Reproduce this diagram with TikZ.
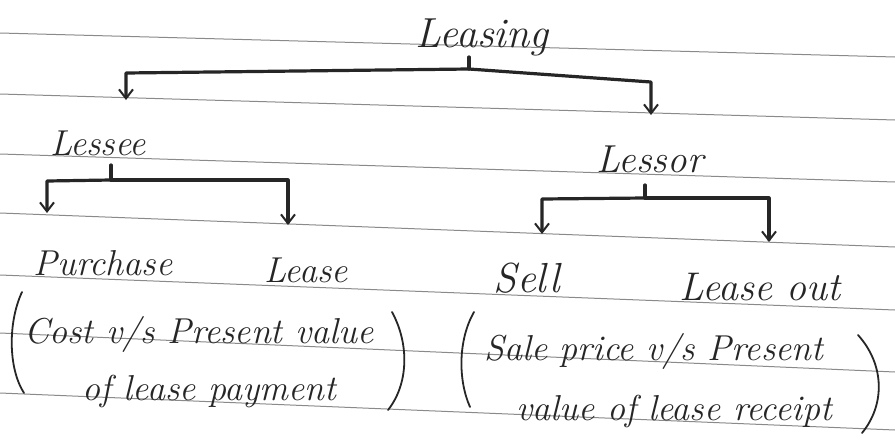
\documentclass[tikz,border=0pt]{standalone}
\usetikzlibrary{arrows.meta}
\definecolor{ink}{HTML}{262626}
\definecolor{rule}{HTML}{8A8A8A}
\begin{document}
\begin{tikzpicture}[x=1pt,y=-1pt,
  hand/.style={font=\fontsize{36}{40}\selectfont\itshape, text=ink, inner sep=0pt},
  conn/.style={draw=ink, line width=3.2pt, line join=round, line cap=round},
  arr/.style={-{Straight Barb[length=9pt,width=14pt,line width=2pt]}},
  paren/.style={draw=ink, line width=1.8pt, line cap=round},
  ruled/.style={draw=rule, line width=1pt}]
\useasboundingbox[fill=white] (0,0) rectangle (895,445);
% notebook ruling
\draw[ruled] (0,33) -- (895,57);
\draw[ruled] (0,94) -- (895,120);
\draw[ruled] (0,154) -- (895,182);
\draw[ruled] (0,213) -- (895,247);
\draw[ruled] (0,275) -- (895,310);
\draw[ruled] (0,333) -- (895,372);
\draw[ruled] (0,393) -- (895,430);
% texts
\node[hand, anchor=base, font=\fontsize{42}{46}\selectfont\itshape] (leasing) at (482,47) {Leasing};
\node[hand, anchor=base] (lessee) at (98,155) {Lessee};
\node[hand, anchor=base, font=\fontsize{39}{44}\selectfont\itshape] (lessor) at (650,172) {Lessor};
\node[hand, anchor=base] (purchase) at (103,275) {Purchase};
\node[hand, anchor=base] (lease) at (306,282) {Lease};
\node[hand, anchor=base, font=\fontsize{42}{46}\selectfont\itshape] (sell) at (527,292) {Sell};
\node[hand, anchor=base, font=\fontsize{40}{44}\selectfont\itshape] (leaseout) at (760,300) {Lease out};
\node[hand, anchor=base west] (cost1) at (24,343) {Cost v/s Present value};
\node[hand, anchor=base west] (cost2) at (82,400) {of lease payment};
\node[hand, anchor=base west] (sale1) at (484,360) {Sale price v/s Present};
\node[hand, anchor=base west] (sale2) at (516,420) {value of lease receipt};
% Leasing branches
\coordinate (ls) at (469,57);
\coordinate (lj) at (469,69);
\coordinate (lL) at (126,73);
\coordinate (lLe) at (126,100);
\coordinate (lR) at (651,82);
\coordinate (lRe) at (651,115);
\draw[conn] (ls) -- (lj);
\draw[conn,arr] (lj) -- (lL) -- (lLe);
\draw[conn,arr] (lj) -- (lR) -- (lRe);
% Lessee branches
\coordinate (es) at (111,165);
\coordinate (ej) at (111,180);
\coordinate (eL) at (47,181);
\coordinate (eLe) at (47,213);
\coordinate (eR) at (288,180);
\coordinate (eRe) at (288,225);
\draw[conn] (es) -- (ej);
\draw[conn,arr] (ej) -- (eL) -- (eLe);
\draw[conn,arr] (ej) -- (eR) -- (eRe);
% Lessor branches
\coordinate (os) at (645,185);
\coordinate (oj) at (645,198);
\coordinate (oL) at (542,199);
\coordinate (oLe) at (542,234);
\coordinate (oR) at (769,198);
\coordinate (oRe) at (769,242);
\draw[conn] (os) -- (oj);
\draw[conn,arr] (oj) -- (oL) -- (oLe);
\draw[conn,arr] (oj) -- (oR) -- (oRe);
% parentheses
\draw[paren] (22,292) .. controls (8,322) and (8,368) .. (24,393);
\draw[paren] (392,312) .. controls (410,345) and (408,385) .. (388,410);
\draw[paren] (474,312) .. controls (458,340) and (458,380) .. (470,407);
\draw[paren] (858,335) .. controls (885,365) and (885,405) .. (862,433);
\end{tikzpicture}
\end{document}
